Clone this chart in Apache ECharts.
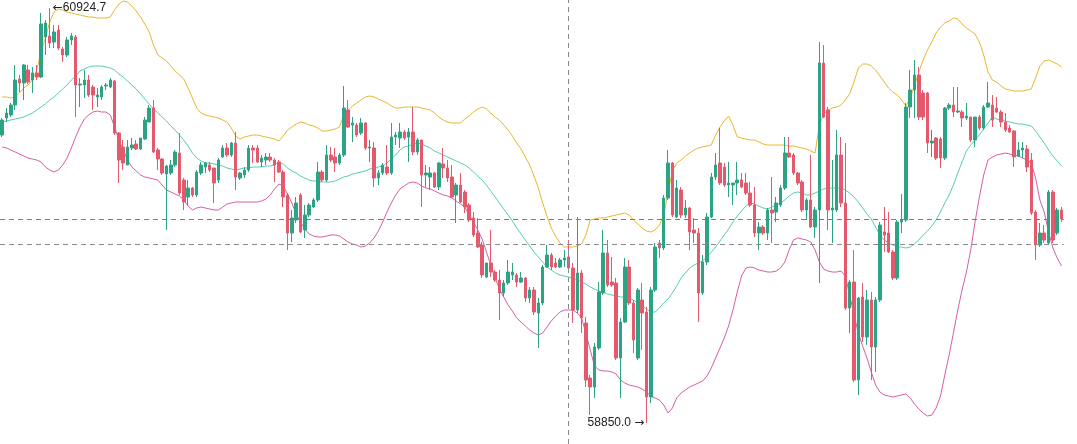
<!DOCTYPE html>
<html>
<head>
<meta charset="utf-8">
<script src="https://cdn.jsdelivr.net/npm/echarts@6/dist/echarts.min.js"></script>
<style>
  html, body { margin: 0; padding: 0; background: #fff; }
  #main { width: 1077px; height: 444px; }
</style>
</head>
<body>
<div id="main"></div>
<script>
// candles
var opens = [60290,60375,60390,60440,60570,60550,60615,60565,60600,60580,
60780,60785,60755,60815,60720,60690,60765,60780,60540,60540,
60565,60530,60480,60480,60535,60530,60560,60300,60230,60140,
60225,60245,60220,60270,60355,60425,60215,60170,60095,60100,
60140,60200,60065,59980,60025,59990,60100,60130,60140,60125,
60065,60180,60225,60190,60250,60075,60090,60115,60225,60225,
60155,60165,60180,60165,60155,60105,59990,59800,59865,59990,
59815,59890,59930,59965,60105,60065,60190,60180,60150,60190,
60415,60340,60340,60300,60350,60225,60225,60075,60100,60130,
60100,60280,60275,60305,60280,60305,60205,60265,60090,60080,
60100,60030,60145,60125,60080,59990,60040,60005,59940,59875,
59800,59740,59580,59650,59605,59565,59500,59550,59590,59590,
59555,59575,59475,59515,59400,59450,59630,59690,59650,59630,
59665,59680,59625,59415,59600,59350,59075,59030,59225,59500,
59700,59555,59550,59175,59355,59630,59450,59175,59465,59405,
58980,59515,59750,59725,59975,60150,59880,60015,59890,59925,
59815,59800,59500,59655,59880,60080,60150,60130,60040,60040,
60050,60065,60050,60000,59940,59800,59830,59800,59915,59905,
59940,60025,60200,60190,60100,60055,59915,59965,59830,59915,
60650,60415,59915,59915,60190,59950,59425,59555,59065,59480,
59280,59465,59230,59465,59805,59800,59705,59575,59855,59865,
60430,60515,60590,60500,60500,60250,60275,60270,60175,60425,
60440,60405,60405,60375,60380,60265,60380,60325,60430,60440,
60425,60405,60355,60325,60310,60185,60215,60220,60165,59905,
59740,59800,59750,60005,59800,59915];
var closes = [60365,60400,60440,60565,60550,60640,60555,60600,60580,60845,
60850,60750,60805,60725,60690,60765,60785,60540,60545,60565,
60490,60490,60490,60530,60540,60565,60300,60165,60150,60230,
60240,60220,60275,60365,60425,60205,60170,60100,60135,60140,
60205,60000,59955,60025,59990,60105,60140,60150,60115,60050,
60165,60225,60190,60250,60080,60100,60115,60225,60215,60155,
60175,60180,60165,60140,60105,59980,59800,59875,59950,59805,
59890,59940,59965,60105,60065,60190,60165,60150,60190,60425,
60330,60350,60290,60350,60225,60230,60075,60100,60140,60100,
60280,60290,60305,60275,60305,60205,60265,60090,60100,60100,
60030,60150,60125,60075,59980,60040,59955,59930,59865,59790,
59730,59590,59650,59605,59565,59500,59550,59605,59605,59555,
59575,59475,59515,59405,59450,59630,59690,59630,59630,59665,
59675,59625,59415,59600,59375,59065,59030,59230,59505,59700,
59540,59540,59175,59355,59630,59450,59265,59515,59400,58980,
59515,59730,59725,59975,60150,59890,60025,59890,59925,59805,
59800,59500,59655,59880,60080,60140,60050,60040,60050,60050,
60065,60030,60000,59940,59800,59830,59800,59915,59900,59950,
60025,60200,60180,60100,60050,59915,59965,59830,59915,60650,
60380,59915,59925,60190,59950,59425,59555,59065,59475,59280,
59465,59230,59465,59840,59790,59705,59575,59855,59865,60430,
60515,60590,60380,60380,60250,60260,60175,60175,60425,60440,
60405,60410,60375,60385,60265,60380,60325,60430,60450,60365,
60405,60355,60315,60305,60180,60215,60225,60130,59900,59740,
59800,59765,60005,59765,59915,59870];
var lows = [60280,60355,60380,60415,60505,60465,60545,60500,60565,60575,
60690,60725,60725,60715,60655,60680,60740,60380,60430,60475,
60480,60415,60430,60465,60515,60525,60290,60050,60115,60140,
60215,60215,60215,60265,60355,60200,60115,60090,59815,60090,
60130,59990,59915,59940,59980,59980,60090,60100,60105,59950,
60050,60175,60180,60180,60015,60065,60075,60105,60150,60150,
60130,60140,60155,60055,60100,59930,59715,59755,59850,59800,
59775,59880,59925,59955,60055,60055,60155,60105,60140,60180,
60325,60255,60280,60290,60215,60155,60030,60040,60090,60090,
60090,60240,60225,60265,60155,60190,60190,59930,60030,60015,
60025,60015,60075,60055,59975,59850,59950,59900,59855,59780,
59725,59575,59575,59580,59555,59365,59480,59540,59565,59530,
59550,59455,59450,59390,59225,59440,59625,59615,59625,59625,
59630,59615,59350,59400,59300,59030,58890,58975,59215,59490,
59530,59530,59165,58975,59350,59440,59200,59165,59215,58850,
58950,59505,59675,59715,59965,59880,59875,59875,59875,59715,
59750,59355,59490,59640,59875,60065,60040,60030,59980,59940,
59990,60025,59990,59930,59780,59715,59790,59765,59750,59855,
59930,60015,60175,60090,60040,59905,59865,59825,59775,59550,
60375,59815,59750,59905,59930,59415,59300,59055,58990,59255,
59240,59065,59105,59455,59705,59700,59565,59565,59800,59855,
60375,60375,60365,60365,60200,60180,60165,60125,60165,60415,
60380,60400,60330,60365,60255,60230,60315,60315,60425,60330,
60400,60330,60305,60300,60130,60180,60175,60105,59890,59665,
59730,59750,59740,59750,59790,59855];
var highs = [60375,60425,60450,60640,60590,60645,60640,60630,60640,60900,
60865,60924.7,60840,60840,60730,60780,60800,60790,60575,60615,
60590,60540,60525,60540,60550,60575,60565,60305,60265,60265,
60275,60265,60275,60380,60440,60465,60225,60175,60140,60165,
60215,60300,60075,60065,60030,60115,60155,60155,60155,60125,
60175,60240,60250,60255,60305,60105,60130,60240,60240,60240,
60190,60200,60200,60175,60165,60115,60000,59915,59980,60000,
59940,59950,59975,60155,60115,60240,60230,60225,60200,60535,
60465,60380,60350,60375,60355,60265,60255,60115,60150,60240,
60350,60305,60350,60315,60325,60430,60275,60265,60140,60130,
60105,60155,60225,60165,60140,60050,60100,60015,59950,59905,
59875,59755,59650,59815,59615,59615,59565,59665,59650,59600,
59605,59580,59530,59530,59475,59640,59740,59700,59675,59675,
59715,59765,59650,59880,59615,59380,59090,59250,59555,59815,
59765,59680,59575,59375,59675,59665,59465,59525,59550,59430,
59530,59750,59765,59990,60215,60155,60065,60030,59965,59930,
59875,59825,59690,59900,60100,60200,60325,60150,60155,60050,
60155,60100,60100,60055,60030,59855,59840,59925,60080,59980,
60040,60280,60280,60200,60105,60065,59975,60190,59930,60755,
60740,60430,60165,60315,60280,60250,59565,59715,59480,59550,
59515,59505,59480,59855,59930,59905,59715,59865,59995,60450,
60615,60665,60630,60515,60505,60315,60280,60280,60430,60450,
60530,60530,60415,60450,60380,60380,60390,60440,60555,60490,
60480,60415,60400,60340,60315,60255,60255,60240,60200,59915,
59850,59840,60015,60015,59925,59930];

// bollinger bands
var upper = [60480,60480,60475,60480,60500,60525,60540,60565,60615,60705,
60775,60855,60905,60920,60915,60905,60900,60895,60890,60885,
60880,60880,60875,60875,60875,60880,60915,60945,60960,60955,
60935,60910,60880,60845,60805,60740,60690,60675,60660,60635,
60610,60590,60570,60525,60475,60425,60400,60390,60385,60380,
60375,60365,60355,60325,60285,60270,60280,60285,60290,60290,
60285,60280,60275,60270,60260,60285,60315,60330,60345,60355,
60350,60340,60335,60325,60310,60310,60315,60320,60330,60390,
60415,60435,60450,60465,60480,60485,60480,60470,60460,60450,
60435,60425,60425,60430,60430,60430,60430,60425,60420,60415,
60400,60380,60365,60355,60350,60350,60350,60370,60385,60405,
60420,60430,60420,60400,60380,60365,60340,60315,60285,60250,
60220,60180,60140,60085,60025,59950,59885,59825,59785,59750,
59730,59730,59730,59735,59745,59790,59865,59870,59875,59875,
59880,59885,59890,59895,59900,59890,59865,59845,59825,59810,
59805,59815,59840,59890,60000,60110,60150,60165,60185,60200,
60215,60225,60230,60235,60240,60290,60330,60360,60385,60340,
60280,60275,60270,60265,60265,60255,60245,60240,60240,60240,
60240,60240,60235,60235,60230,60225,60220,60210,60200,60340,
60395,60415,60425,60430,60440,60465,60495,60555,60625,60645,
60645,60635,60615,60585,60555,60525,60505,60490,60465,60435,
60475,60535,60605,60665,60715,60755,60800,60830,60850,60860,
60875,60870,60845,60825,60810,60795,60755,60690,60605,60565,
60555,60535,60520,60515,60510,60510,60510,60515,60520,60575,
60635,60660,60665,60655,60645,60630];
var middle = [60355,60360,60365,60370,60375,60380,60390,60400,60415,60430,
60445,60465,60480,60500,60520,60540,60565,60585,60610,60620,
60630,60635,60635,60635,60630,60625,60615,60595,60580,60560,
60540,60520,60495,60470,60445,60420,60400,60380,60360,60335,
60315,60290,60265,60235,60200,60175,60160,60150,60150,60145,
60140,60135,60125,60120,60115,60120,60125,60125,60130,60130,
60130,60135,60135,60140,60155,60145,60125,60110,60100,60085,
60075,60065,60060,60060,60055,60055,60055,60060,60070,60080,
60085,60095,60100,60105,60110,60120,60125,60130,60135,60150,
60170,60190,60215,60230,60235,60245,60250,60245,60235,60225,
60210,60200,60190,60180,60170,60160,60150,60140,60125,60105,
60085,60065,60040,60010,59980,59950,59920,59890,59860,59825,
59795,59765,59735,59705,59680,59655,59630,59615,59600,59590,
59585,59580,59575,59565,59555,59545,59530,59520,59510,59505,
59495,59490,59485,59480,59480,59475,59465,59450,59435,59420,
59405,59405,59425,59450,59470,59500,59535,59575,59600,59625,
59640,59650,59660,59680,59705,59730,59760,59790,59820,59855,
59885,59910,59935,59950,59945,59935,59925,59920,59930,59940,
59950,59965,59985,60000,60005,60000,59990,59990,60000,60010,
60020,60025,60025,60025,60025,60015,60000,59980,59955,59925,
59895,59870,59830,59790,59765,59750,59740,59730,59730,59725,
59730,59745,59765,59790,59810,59835,59865,59905,59950,59990,
60040,60100,60155,60210,60240,60265,60290,60320,60350,60380,
60370,60365,60360,60355,60350,60345,60345,60340,60335,60310,
60280,60250,60215,60185,60160,60135];
var lower = [60230,60225,60215,60205,60195,60185,60175,60170,60165,60155,
60130,60115,60105,60115,60140,60175,60225,60280,60330,60370,
60390,60405,60410,60405,60405,60390,60330,60265,60215,60165,
60130,60110,60090,60080,60075,60070,60065,60040,60015,60005,
59995,59985,59965,59935,59915,59925,59930,59925,59920,59915,
59915,59930,59945,59950,59955,59955,59955,59955,59955,59955,
59960,59970,59990,60020,60045,60035,59995,59950,59895,59855,
59820,59795,59785,59780,59780,59785,59790,59790,59785,59770,
59755,59745,59740,59730,59735,59750,59775,59810,59855,59905,
59950,59990,60020,60035,60050,60055,60050,60035,60025,60020,
60010,60000,59990,59985,59975,59960,59945,59930,59890,59855,
59815,59770,59705,59640,59575,59520,59480,59440,59410,59375,
59355,59335,59315,59300,59290,59300,59330,59360,59385,59405,
59415,59415,59415,59400,59375,59300,59215,59135,59115,59110,
59110,59105,59095,59065,59050,59040,59035,59030,59020,59005,
58985,58975,58965,58940,58900,58925,58975,59000,59015,59030,
59040,59050,59060,59085,59125,59175,59225,59275,59335,59415,
59505,59585,59625,59630,59625,59615,59610,59605,59605,59610,
59625,59655,59715,59765,59775,59770,59765,59755,59715,59655,
59620,59610,59605,59605,59610,59585,59490,59390,59300,59235,
59175,59105,59040,59005,58990,58985,58980,58985,58990,58995,
58975,58945,58920,58900,58885,58890,58925,58985,59090,59190,
59300,59415,59515,59605,59715,59855,59980,60090,60165,60180,
60190,60195,60200,60195,60190,60185,60175,60165,60150,60075,
59965,59905,59805,59725,59675,59635];

var categories = opens.map(function (v, i) { return String(i); });
var crossIndex = 131;
var crossPrice = 59745;

var chart = echarts.init(document.getElementById('main'));

var candles = opens.map(function (o, i) {
    return [o, closes[i], lows[i], highs[i]];
});

// highest high and lowest low
var hiIdx = 0, loIdx = 0;
highs.forEach(function (h, i) { if (h > highs[hiIdx]) hiIdx = i; });
lows.forEach(function (l, i) { if (l < lows[loIdx]) loIdx = i; });
var lastClose = closes[closes.length - 1];

var upColor = '#2ba485';
var downColor = '#e4596c';
var txtFont = 'Liberation Sans, Arial, sans-serif';

var option = {
    animation: false,
    backgroundColor: '#ffffff',
    grid: { left: -1.5, right: 13.3, top: 0, bottom: 0 },
    xAxis: {
        type: 'category',
        data: categories,
        show: false
    },
    yAxis: {
        type: 'value',
        min: 58745,
        max: 60965,
        show: false
    },
    series: [
        {
            name: 'K',
            type: 'candlestick',
            data: candles,
            barWidth: 3,
            itemStyle: {
                color: upColor,
                color0: downColor,
                borderColor: upColor,
                borderColor0: downColor,
                borderWidth: 1
            },
            markPoint: {
                symbol: 'circle',
                symbolSize: 0.1,
                silent: true,
                label: {
                    show: true,
                    color: '#222',
                    fontSize: 12,
                    fontFamily: txtFont,
                    rich: {
                        ar: { fontFamily: 'DejaVu Sans', fontSize: 12, color: '#222' }
                    }
                },
                data: [
                    {
                        coord: [hiIdx, highs[hiIdx]],
                        label: { position: 'right', distance: 3, formatter: '{ar|\u2190}' + highs[hiIdx].toFixed(1) }
                    },
                    {
                        coord: [loIdx, lows[loIdx]],
                        label: { position: 'left', distance: 2, formatter: lows[loIdx].toFixed(1) + ' {ar|\u2192}' }
                    }
                ]
            },
            markLine: {
                symbol: 'none',
                silent: true,
                label: { show: false },
                data: [
                    { yAxis: lastClose, lineStyle: { color: '#b06464', type: [5, 4], width: 1 } },
                    { yAxis: crossPrice, lineStyle: { color: '#8a8a8a', type: [5, 4], width: 1 } },
                    { xAxis: crossIndex, lineStyle: { color: '#8a8a8a', type: [5, 4], width: 1 } }
                ]
            }
        },
        {
            name: 'UP',
            type: 'line',
            data: upper,
            symbol: 'none',
            lineStyle: { color: '#e9b72e', width: 1 },
            z: 1
        },
        {
            name: 'MB',
            type: 'line',
            data: middle,
            symbol: 'none',
            lineStyle: { color: '#55cdb3', width: 1 },
            z: 1
        },
        {
            name: 'DN',
            type: 'line',
            data: lower,
            symbol: 'none',
            lineStyle: { color: '#d65ea6', width: 1 },
            z: 1
        }
    ]
};

chart.setOption(option);
</script>
</body>
</html>
